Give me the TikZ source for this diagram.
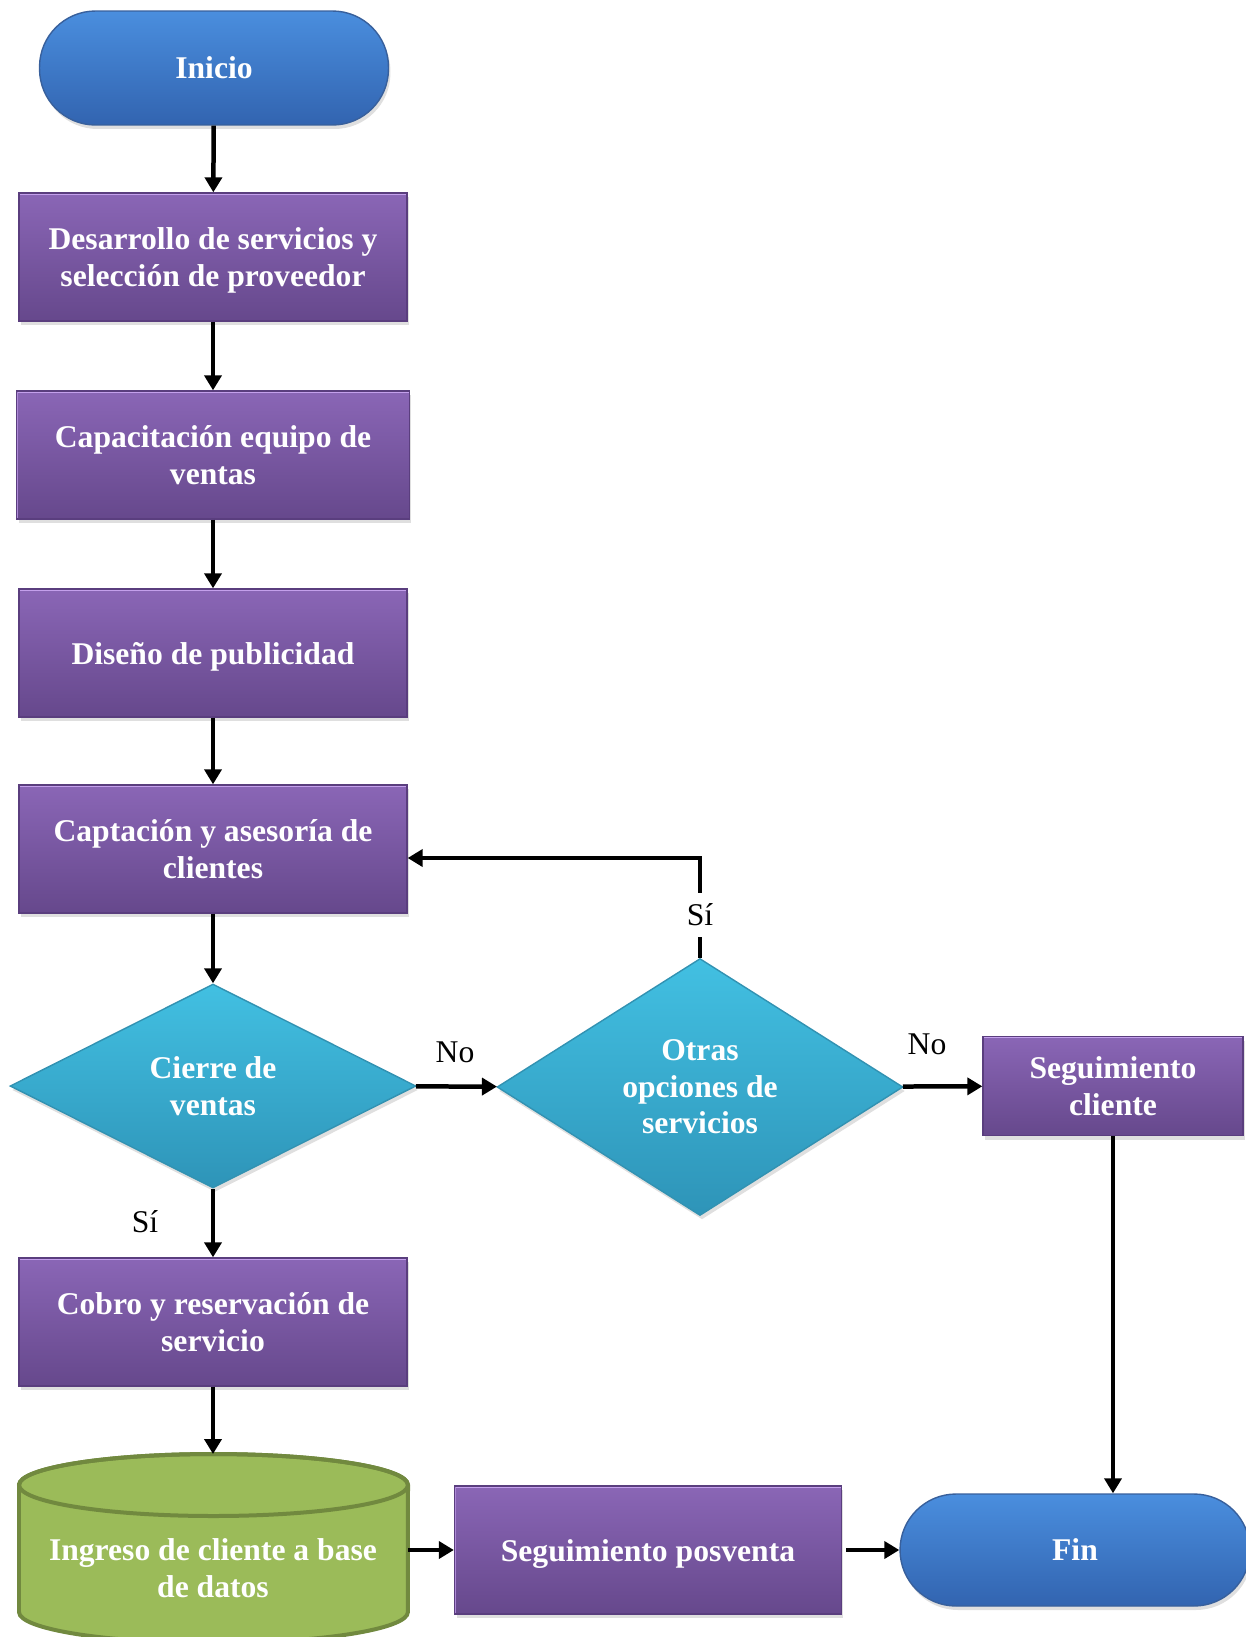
\documentclass[tikz,border=0pt]{standalone}
\usepackage{fontspec}
\setmainfont{Liberation Serif}
\usepackage{tikz}
\usepackage{xcolor}
\usetikzlibrary{arrows.meta,shapes,shadows}

\definecolor{azulA}{RGB}{74,142,222}
\definecolor{azulB}{RGB}{50,100,176}
\definecolor{azulBorde}{RGB}{56,96,156}
\definecolor{moradoA}{RGB}{138,102,182}
\definecolor{moradoB}{RGB}{102,72,140}
\definecolor{moradoBorde}{RGB}{90,62,126}
\definecolor{moradoClaro}{RGB}{196,160,236}
\definecolor{cianA}{RGB}{66,192,226}
\definecolor{cianB}{RGB}{46,148,184}
\definecolor{cianBorde}{RGB}{50,146,178}
\definecolor{verde}{RGB}{155,187,89}
\definecolor{verdeBorde}{RGB}{113,137,63}

\tikzset{
  texto/.style={font=\fontsize{18}{20.7}\selectfont\bfseries,text=white,align=center},
  sombra/.style={drop shadow={opacity=0.25,shadow xshift=0.04cm,shadow yshift=-0.08cm}},
  terminal/.style={texto,rectangle,rounded corners=1.12cm,minimum width=6.98cm,minimum height=2.28cm,
    top color=azulA,bottom color=azulB,draw=azulBorde,line width=0.8pt,sombra},
  proceso/.style={texto,rectangle,minimum width=7.76cm,minimum height=2.56cm,
    top color=moradoA,bottom color=moradoB,draw=moradoBorde,line width=0.8pt,sombra,
    execute at begin node={\rule{0pt}{17.3pt}},
    path picture={\draw[moradoClaro,line width=0.06cm]
      (path picture bounding box.north west) -- (path picture bounding box.north east);
      \draw[moradoClaro!60!moradoA,line width=0.05cm]
      (path picture bounding box.north west) -- (path picture bounding box.south west);}},
  decision/.style={texto,diamond,aspect=1.6,inner sep=0pt,minimum width=8.12cm,
    top color=cianA,bottom color=cianB,draw=cianBorde,line width=0.8pt,sombra},
  etiqueta/.style={font=\fontsize{18}{20.7}\selectfont},
  flecha/.style={->,line width=0.09cm},
}

\begin{document}
\begin{tikzpicture}[x=0.02cm,y=-0.02cm,>={Triangle[length=0.3cm,width=0.34cm]}]
\useasboundingbox (0,0) rectangle (1246,1637);

% columna principal
\node[terminal] (inicio) at (214,68) {Inicio};
\node[proceso] (desarrollo) at (213,257) {Desarrollo de servicios y\\\smash{selecci\'on de proveedor}};
\node[proceso,minimum width=7.86cm] (capacitacion) at (213,455) {Capacitaci\'on equipo de\\ventas};
\node[proceso] (diseno) at (213,653) {Dise\~no de publicidad};
\node[proceso] (captacion) at (213,849) {Captaci\'on y asesor\'ia de\\clientes};
\node[decision,minimum height=4.08cm] (cierre) at (213,1086) {Cierre de\\ventas};
\node[proceso] (cobro) at (213,1322) {Cobro y reservaci\'on de\\servicio};

% base de datos
\draw[verdeBorde,fill=verde,line width=0.08cm]
  (19,1485) -- (19,1612) arc[start angle=180,end angle=360,x radius=3.89cm,y radius=0.62cm]
  -- (408,1485) arc[start angle=0,end angle=180,x radius=3.89cm,y radius=0.62cm] -- cycle;
\draw[verdeBorde,line width=0.08cm] (213.5,1485) ellipse[x radius=3.89cm,y radius=0.62cm];
\coordinate (dbtope) at (213,1454);
\node[texto,minimum width=7.78cm] (ingreso) at (213,1568) {Ingreso de cliente a base\\de datos};

% rama derecha
\node[decision,minimum height=5.14cm] (otras) at (700,1087) {Otras\\opciones de\\servicios};
\node[proceso,minimum width=5.2cm,minimum height=1.98cm] (segcliente) at (1113,1086) {Seguimiento\\cliente};
\node[proceso,minimum width=7.74cm] (posventa) at (648,1550) {Seguimiento posventa};
\node[terminal,minimum width=7cm,minimum height=2.24cm] (fin) at (1075,1550) {Fin};

% conectores
\draw[flecha] (inicio) -- (desarrollo);
\draw[flecha] (desarrollo) -- (capacitacion);
\draw[flecha] (capacitacion) -- (diseno);
\draw[flecha] (diseno) -- (captacion);
\draw[flecha] (captacion) -- (cierre);
\draw[flecha] (cierre) -- (cobro);
\draw[flecha] (cobro) -- (dbtope);
\draw[flecha] (cierre) -- (otras);
\draw[flecha] (otras) -- (segcliente);
\draw[flecha] (segcliente.south) -- (segcliente.south |- fin.north);
\draw[flecha] (ingreso.east |- posventa.west) -- (posventa.west);
\draw[flecha] ([xshift=0.08cm]posventa.east) -- (fin.west);
\coordinate (vuelta) at (700,858);
\draw[flecha] (otras.north) -- (vuelta) -- (captacion.east |- vuelta);

% etiquetas
\node[etiqueta] (si1) at (145,1222) {S\'i};
\node[etiqueta] (no1) at (455,1052) {No};
\node[etiqueta] (no2) at (927,1044) {No};
\node[etiqueta,fill=white,inner xsep=2pt,inner ysep=0.22cm] (si2) at (700,915) {S\'i};
\end{tikzpicture}
\end{document}
